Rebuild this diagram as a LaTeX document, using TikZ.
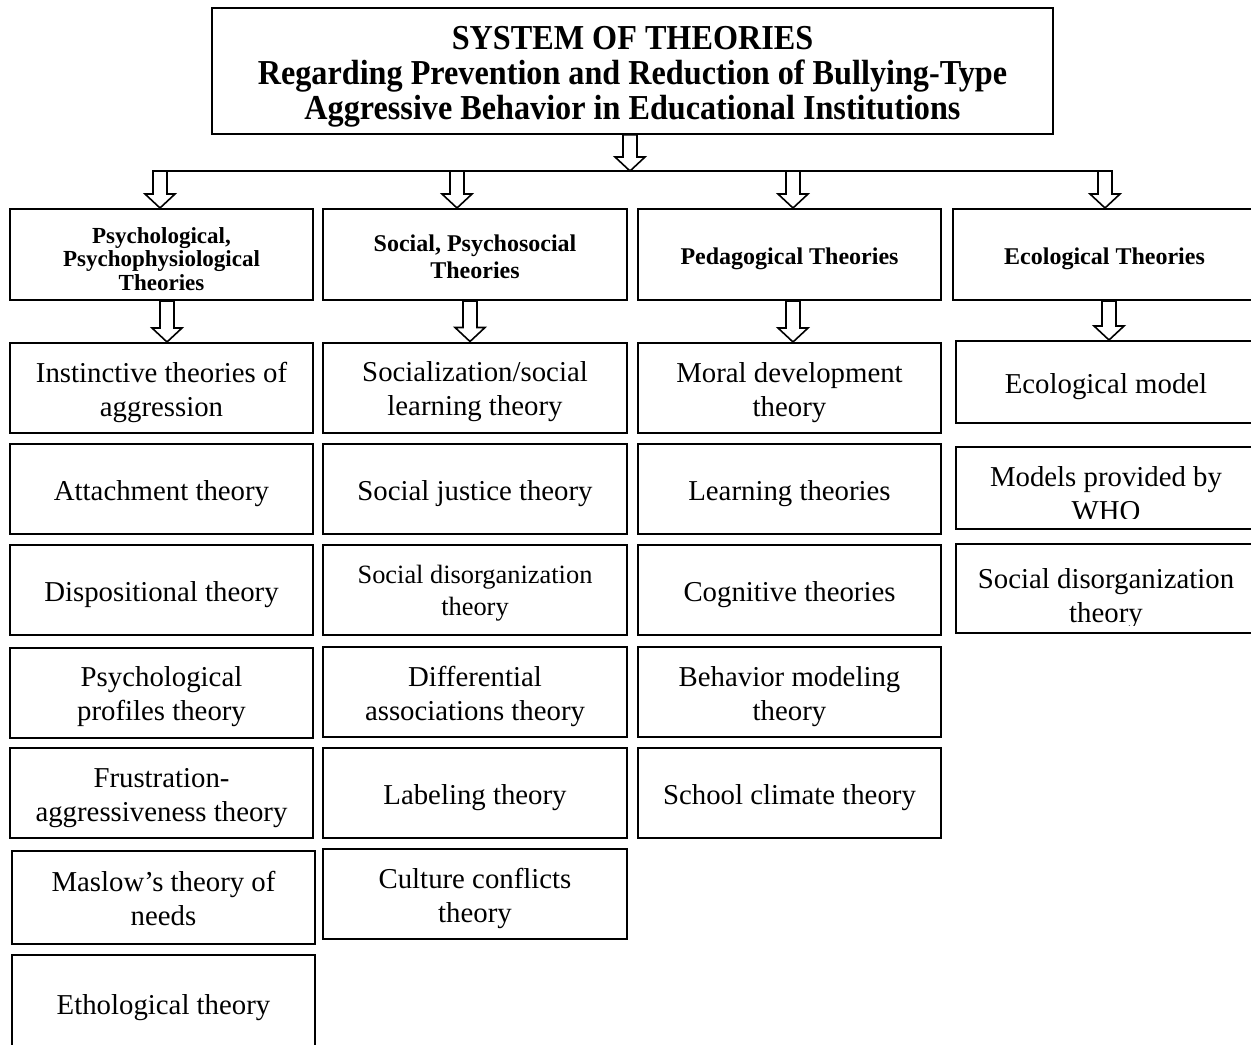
\documentclass[tikz,border=0pt]{standalone}
\usepackage{fontspec}
\setmainfont{Liberation Serif}
\newfontfamily\narrowfont[FakeStretch=0.92]{Liberation Serif}
\usetikzlibrary{calc}

\tikzset{
  cell/.style={draw, line width=1pt, minimum width=151.5pt, minimum height=45pt,
    align=center, inner sep=2pt, text height=14pt, text depth=3pt,
    font=\fontsize{14.4}{17}\selectfont},
  two/.style={text height=31pt},
  celltext/.style={draw=none, align=center, inner sep=0pt, text height=31pt, text depth=3pt,
    font=\fontsize{14.4}{17}\selectfont},
  head/.style={cell, minimum height=45.5pt, text height=12.5pt, text depth=2.6pt,
    font=\fontsize{12}{13.5}\selectfont\bfseries},
  arr/.style={line width=0.8pt, fill=white},
}
% hollow arrow at x (px) from one anchor down to another
\newcommand{\blockarr}[3]{%
  \draw[arr] let \p0=(#1,0), \p1=(#2), \p2=(#3) in
    (\x0-3.5pt,\y1) -- (\x0+3.5pt,\y1) -- (\x0+3.5pt,\y2+7pt) -- (\x0+7.5pt,\y2+7pt)
    -- (\x0,\y2) -- (\x0-7.5pt,\y2+7pt) -- (\x0-3.5pt,\y2+7pt) -- cycle;}

\begin{document}
\begin{tikzpicture}[x=0.5pt, y=-0.5pt]
\useasboundingbox (0,0) rectangle (1251,1044);
\clip (0,0) rectangle (1251,1044);

% title
\node[draw, line width=1pt, minimum width=420.5pt, minimum height=61pt, align=center,
  text height=52.4pt, text depth=3.8pt,
  font=\fontsize{17.5}{17.5}\selectfont\narrowfont\bfseries] (top) at (632.5,71)
  {SYSTEM OF THEORIES\\Regarding Prevention and Reduction of Bullying-Type\\Aggressive Behavior in Educational Institutions};

% groups
\node[head, text height=38.5pt, text depth=2.5pt, font=\fontsize{11.5}{11.8}\selectfont\bfseries] (psy) at (161.5,254.5) {Psychological,\\Psychophysiological\\Theories};
\node[head, minimum width=152pt, text height=26.1pt] (soc) at (475,254.5) {Social, Psychosocial\\Theories};
\node[head] (ped) at (789.5,254.5) {Pedagogical Theories};
\node[head] (eco) at (1104.5,254.5) {Ecological Theories};

% bus
\coordinate (busL) at (153,171);
\coordinate (busR) at (1112,171);
\draw[line width=0.8pt] (busL) -- (busR);
\blockarr{630}{top.south}{busL}
\blockarr{160}{busL}{psy.north}
\blockarr{457}{busL}{soc.north}
\blockarr{793}{busL}{ped.north}
\blockarr{1105}{busL}{eco.north}

% psychological
\node[cell, two] (p1) at (161.5,388) {Instinctive theories of\\aggression};
\node[cell] (p2) at (161.5,489) {Attachment theory};
\node[cell] (p3) at (161.5,590) {Dispositional theory};
\node[cell, two] (p4) at (161.5,692.5) {Psychological\\profiles theory};
\node[cell, two] (p5) at (161.5,793) {Frustration-\\aggressiveness theory};
\node[cell, two, minimum height=46.5pt] (p6) at (163.5,897.5) {Maslow’s theory of\\needs};
\node[cell, minimum height=48pt] (p7) at (163.5,1003) {Ethological theory};

% social
\node[cell, two, minimum width=152pt] (s1) at (475,387.5) {Socialization/social\\learning theory};
\node[cell, minimum width=152pt] (s2) at (475,489) {Social justice theory};
\node[cell, minimum width=152pt, text height=28.6pt, text depth=2.9pt, font=\fontsize{13.2}{16}\selectfont] (s3) at (475,590) {Social disorganization\\theory};
\node[cell, two, minimum width=152pt] (s4) at (475,692) {Differential\\associations theory};
\node[cell, minimum width=152pt] (s5) at (475,793) {Labeling theory};
\node[cell, two, minimum width=152pt] (s6) at (475,894) {Culture conflicts\\theory};

% pedagogical
\node[cell, two] (d1) at (789.5,388) {Moral development\\theory};
\node[cell] (d2) at (789.5,489) {Learning theories};
\node[cell] (d3) at (789.5,590) {Cognitive theories};
\node[cell, two] (d4) at (789.5,692) {Behavior modeling\\theory};
\node[cell] (d5) at (789.5,793) {School climate theory};

% ecological
\node[cell, minimum width=150pt, minimum height=41pt] (e1) at (1106,382) {Ecological model};
\node[cell, minimum width=150pt, minimum height=41pt, path picture={
  \clip (path picture bounding box.north west) rectangle ([yshift=5.5pt]path picture bounding box.south east);
  \node[celltext] at ([yshift=-2pt]path picture bounding box.center) {Models provided by\\WHO};}]
  (e2) at (1106,488) {};
\node[cell, minimum width=150pt, minimum height=44.5pt, path picture={
  \clip (path picture bounding box.north west) rectangle ([yshift=4pt]path picture bounding box.south east);
  \node[celltext] at ([yshift=-2.75pt]path picture bounding box.center) {Social disorganization\\theory};}]
  (e3) at (1106,588.5) {};

\blockarr{167}{psy.south}{p1.north}
\blockarr{470}{soc.south}{s1.north}
\blockarr{793}{ped.south}{d1.north}
\blockarr{1109}{eco.south}{e1.north}
\end{tikzpicture}
\end{document}
